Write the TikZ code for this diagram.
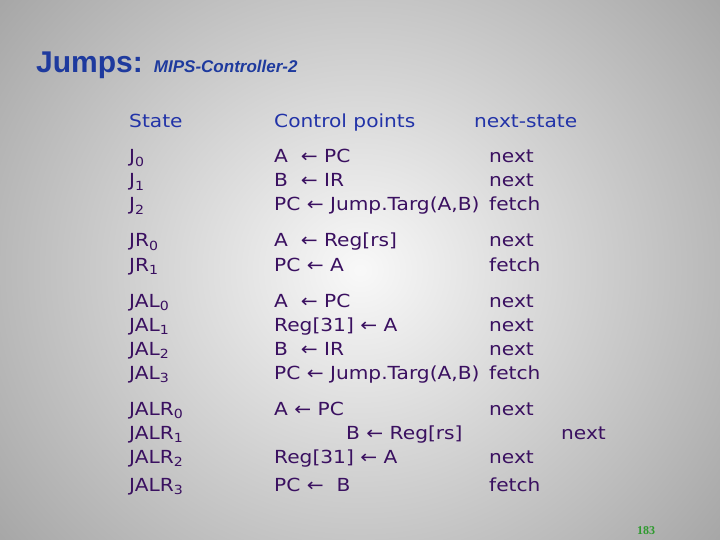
\documentclass[tikz,border=0pt]{standalone}
\usepackage{fontspec}
\setmainfont[FakeStretch=1.12]{DejaVu Sans}
\newfontfamily\arialf{Liberation Sans}
\definecolor{ttl}{HTML}{1E3A9E}
\definecolor{hdr}{HTML}{2233A8}
\definecolor{body}{HTML}{3A1060}
\definecolor{pgn}{HTML}{2E9A2E}
\tikzset{
  txt/.style={anchor=base west,inner sep=0pt,text=body,font=\fontsize{18}{20}\selectfont},
  hd/.style={txt,text=hdr},
}
\newcommand{\sbs}[1]{\textsubscript{#1}}
\begin{document}
\begin{tikzpicture}[x=1pt,y=-1pt]
\useasboundingbox (0,0) rectangle (720,540);
\begin{scope}
\clip (0,0) rectangle (720,540);
\shade[inner color=white!95!gray,outer color=gray!72] (-120,-180) rectangle (840,720);
\end{scope}
\node[anchor=base west,inner sep=0pt,text=ttl] (t) at (36,73) {\arialf\fontsize{30}{34}\selectfont\bfseries Jumps: {\fontsize{17}{19}\selectfont\itshape MIPS-Controller-2}};
\node[hd] (h1) at (129,128) {State};
\node[hd] (h2) at (274,128) {Control points};
\node[hd] (h3) at (474,128) {next-state};
% J
\node[txt] (s1) at (129,163) {J\sbs{0}};
\node[txt] (s2) at (129,187) {J\sbs{1}};
\node[txt] (s3) at (129,211) {J\sbs{2}};
\node[txt] (c1) at (274,163) {A\ \ ← PC};
\node[txt] (c2) at (274,187) {B\ \ ← IR};
\node[txt] (c3) at (274,211) {PC ← Jump.Targ(A,B)};
\node[txt] (n1) at (489,163) {next};
\node[txt] (n2) at (489,187) {next};
\node[txt] (n3) at (489,211) {fetch};
% JR
\node[txt] (s4) at (129,247) {JR\sbs{0}};
\node[txt] (s5) at (129,271) {JR\sbs{1}};
\node[txt] (c4) at (274,247) {A\ \ ← Reg[rs]};
\node[txt] (c5) at (274,271) {PC ← A};
\node[txt] (n4) at (489,247) {next};
\node[txt] (n5) at (489,271) {fetch};
% JAL
\node[txt] (s6) at (129,307) {JAL\sbs{0}};
\node[txt] (s7) at (129,331) {JAL\sbs{1}};
\node[txt] (s8) at (129,355) {JAL\sbs{2}};
\node[txt] (s9) at (129,379) {JAL\sbs{3}};
\node[txt] (c6) at (274,307) {A\ \ ← PC};
\node[txt] (c7) at (274,331) {Reg[31] ← A};
\node[txt] (c8) at (274,355) {B\ \ ← IR};
\node[txt] (c9) at (274,379) {PC ← Jump.Targ(A,B)};
\node[txt] (n6) at (489,307) {next};
\node[txt] (n7) at (489,331) {next};
\node[txt] (n8) at (489,355) {next};
\node[txt] (n9) at (489,379) {fetch};
% JALR
\node[txt] (s10) at (129,415) {JALR\sbs{0}};
\node[txt] (s11) at (129,439) {JALR\sbs{1}};
\node[txt] (s12) at (129,463) {JALR\sbs{2}};
\node[txt] (s13) at (129,491) {JALR\sbs{3}};
\node[txt] (c10) at (274,415) {A ← PC};
\node[txt] (c11) at (346,439) {B ← Reg[rs]};
\node[txt] (c12) at (274,463) {Reg[31] ← A};
\node[txt] (c13) at (274,491) {PC ← \ B};
\node[txt] (n10) at (489,415) {next};
\node[txt] (n11) at (561,439) {next};
\node[txt] (n12) at (489,463) {next};
\node[txt] (n13) at (489,491) {fetch};
\node[anchor=base west,inner sep=0pt,text=pgn,font=\fontsize{12}{14}\selectfont\bfseries] (pg) at (637,534) {\fontspec{Liberation Serif}183};
\end{tikzpicture}
\end{document}
